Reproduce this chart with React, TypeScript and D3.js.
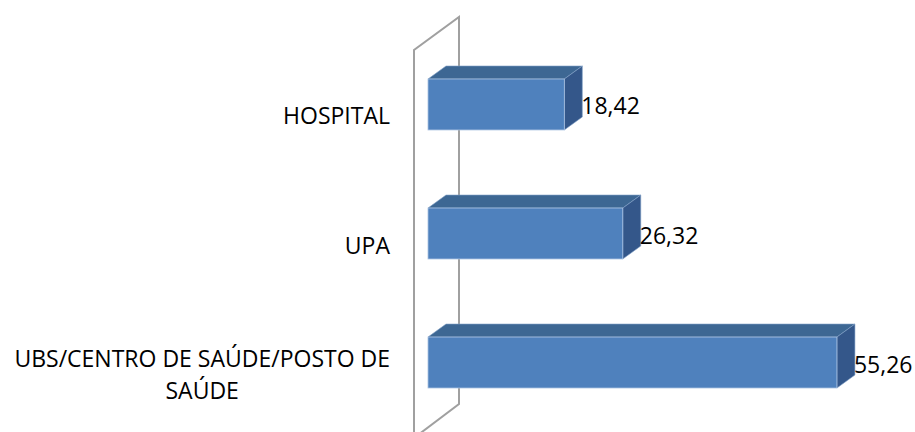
import React, { useEffect, useRef } from 'react';
import * as d3 from 'd3';

const categories = ['HOSPITAL', 'UPA', 'UBS/CENTRO DE SAÚDE/POSTO DE SAÚDE'];
const categoryLines = [['HOSPITAL'], ['UPA'], ['UBS/CENTRO DE SAÚDE/POSTO DE', 'SAÚDE']];
const values = [18.42, 26.32, 55.26];
const valueLabels = ['18,42', '26,32', '55,26'];

const W = 915;
const H = 432;
const FONT = '"Open Sans", sans-serif';
const FS = 23;

export default function App() {
  const ref = useRef<SVGSVGElement | null>(null);

  useEffect(() => {
    const svg = d3.select(ref.current);
    svg.selectAll('*').remove();

    // 3d depth offsets
    const dx = 18, dy = -13;
    const wallDx = 45, wallDy = -33;

    const x = d3.scaleLinear().domain([0, 60]).range([428, 872]);
    const y = d3.scaleBand<string>()
      .domain(categories)
      .range([40.3, 426.7])
      .paddingInner(0.605)
      .paddingOuter(0.3);

    // back wall (vertical axis plane)
    const wx = x(0) - 14;
    const wTop = 50;
    const wBottom = H + 6;
    svg.append('path')
      .attr('d', `M${wx},${wBottom} L${wx},${wTop} L${wx + wallDx},${wTop + wallDy} L${wx + wallDx},${wBottom + wallDy - 1} L${wx},${wBottom}`)
      .attr('fill', 'none')
      .attr('stroke', '#a0a0a0')
      .attr('stroke-width', 2);

    const bars = svg.selectAll('g.bar')
      .data(categories)
      .enter()
      .append('g')
      .attr('class', 'bar');

    bars.each(function (c, i) {
      const g = d3.select(this);
      const x0 = x(0);
      const x1 = x(values[i]);
      const y0 = y(c)!;
      const y1 = y0 + y.bandwidth();
      // top face
      g.append('path')
        .attr('d', `M${x0},${y0} L${x0 + dx},${y0 + dy} L${x1 + dx},${y0 + dy} L${x1},${y0} Z`)
        .attr('fill', '#3d6793')
        .attr('stroke', '#7f9fc6')
        .attr('stroke-width', 0.6);
      // right face
      g.append('path')
        .attr('d', `M${x1},${y0} L${x1 + dx},${y0 + dy} L${x1 + dx},${y1 + dy} L${x1},${y1} Z`)
        .attr('fill', '#34578a')
        .attr('stroke', '#7f9fc6')
        .attr('stroke-width', 0.6);
      // front face
      g.append('rect')
        .attr('x', x0)
        .attr('y', y0)
        .attr('width', x1 - x0)
        .attr('height', y1 - y0)
        .attr('fill', '#4f81bd')
        .attr('stroke', '#a9c2e2')
        .attr('stroke-width', 0.8);
      // value label
      g.append('text')
        .attr('x', x1 + dx - 1)
        .attr('y', (y0 + y1) / 2 + 10)
        .attr('font-family', FONT)
        .attr('font-size', FS)
        .attr('fill', '#000')
        .text(valueLabels[i]);
    });

    // category labels
    const labelRight = 390;
    const lineH = 32;
    categories.forEach((c, i) => {
      const lines = categoryLines[i];
      const mid = y(c)! + y.bandwidth() / 2 + 12;
      const t = svg.append('text')
        .attr('font-family', FONT)
        .attr('font-size', FS)
        .attr('fill', '#000');
      const spans = lines.map((l, k) =>
        t.append('tspan')
          .attr('y', mid + 8 - ((lines.length - 1) * lineH) / 2 + k * lineH)
          .text(l)
      );
      let maxW = 0;
      spans.forEach(s => { maxW = Math.max(maxW, (s.node() as SVGTSpanElement).getComputedTextLength()); });
      const cx = labelRight - maxW / 2;
      spans.forEach(s => s.attr('x', cx).attr('text-anchor', 'middle'));
    });
  }, []);

  return (
    <svg ref={ref} width={W} height={H} style={{ position: 'absolute', left: 0, top: 0, background: '#fff' }} />
  );
}
